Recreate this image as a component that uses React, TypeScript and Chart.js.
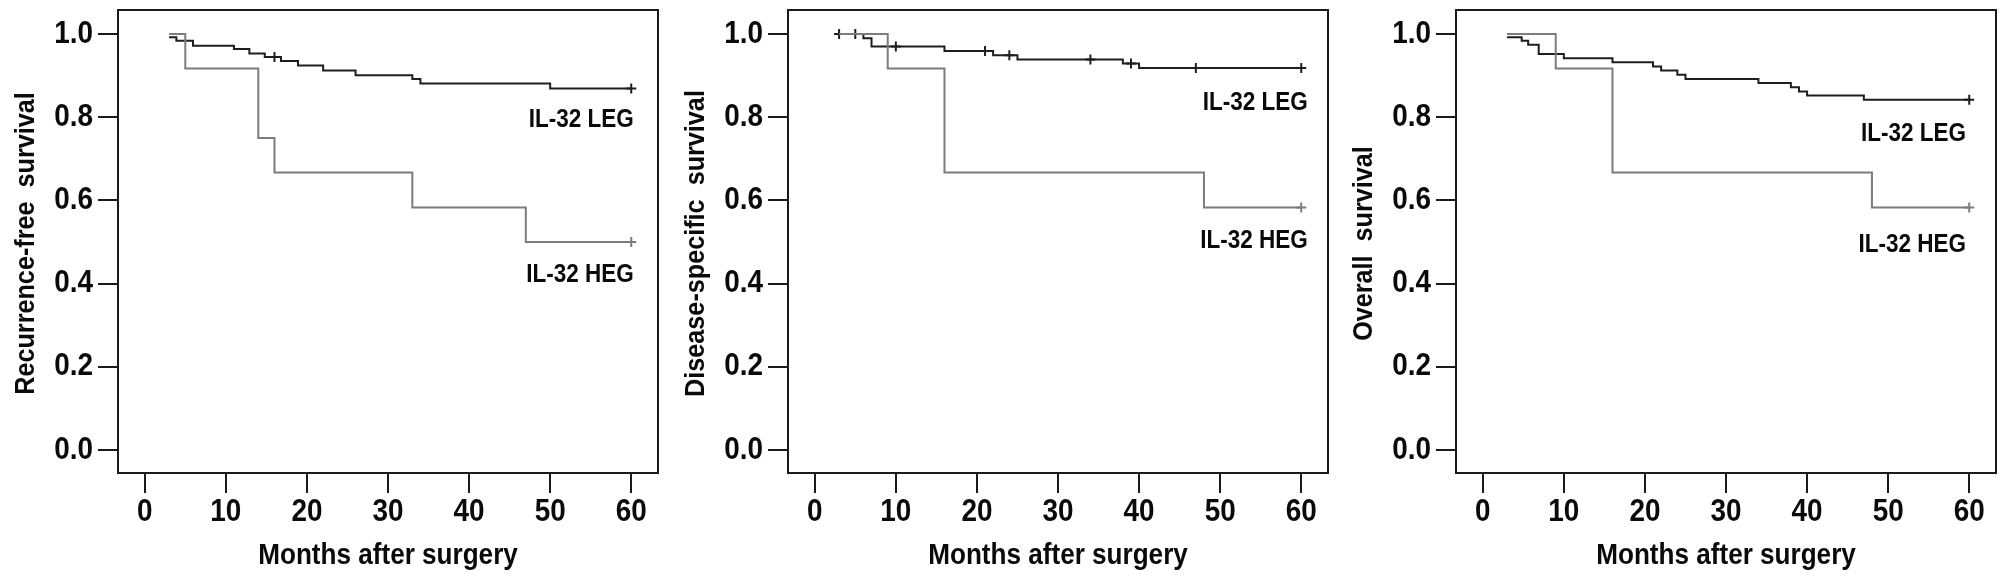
import React, { useEffect, useRef } from "react";
import { Chart, registerables } from "chart.js";

Chart.register(...registerables);

// ---------- tick values / titles ----------
const xTickValues = [0, 10, 20, 30, 40, 50, 60];
const yTickValues = [0, 0.2, 0.4, 0.6, 0.8, 1.0];
const xTitle = "Months after surgery";
const yTitles = ["Recurrence-free  survival", "Disease-specific  survival", "Overall  survival"];
const groupNames = ["IL-32 LEG", "IL-32 HEG"];

// ---------- Recurrence-free survival ----------
const rfsLegMonths = [3, 3.9, 5.95, 11, 12.9, 14.8, 16.8, 18.9, 22, 26, 33, 34, 50, 60];
const rfsLegSurvival = [0.992, 0.984, 0.972, 0.964, 0.953, 0.945, 0.935, 0.924, 0.912, 0.901, 0.892, 0.881, 0.869, 0.869];
const rfsLegCensorMonths = [16, 60];
const rfsLegCensorSurvival = [0.945, 0.869];
const rfsHegMonths = [3, 5, 14, 16, 33, 47, 60];
const rfsHegSurvival = [1.0, 0.917, 0.75, 0.667, 0.583, 0.5, 0.5];
const rfsHegCensorMonths = [60];
const rfsHegCensorSurvival = [0.5];

// ---------- Disease-specific survival ----------
const dssLegMonths = [3, 6, 7, 16, 22, 25, 38, 40, 60];
const dssLegSurvival = [1.0, 0.99, 0.97, 0.959, 0.949, 0.939, 0.929, 0.918, 0.918];
const dssLegCensorMonths = [3, 5, 10, 21, 24, 34, 39, 47, 60];
const dssLegCensorSurvival = [1.0, 1.0, 0.97, 0.959, 0.949, 0.939, 0.929, 0.918, 0.918];
const dssHegMonths = [3, 9, 16, 48, 60];
const dssHegSurvival = [1.0, 0.917, 0.667, 0.583, 0.583];
const dssHegCensorMonths = [60];
const dssHegCensorSurvival = [0.583];

// ---------- Overall survival ----------
const osLegMonths = [3, 4.8, 5.6, 6.9, 10, 16, 21, 22, 24, 25, 34, 38, 39, 40, 47, 60];
const osLegSurvival = [0.992, 0.984, 0.974, 0.952, 0.942, 0.932, 0.922, 0.912, 0.902, 0.892, 0.882, 0.872, 0.862, 0.852, 0.842, 0.842];
const osLegCensorMonths = [60];
const osLegCensorSurvival = [0.842];
const osHegMonths = [3, 9, 16, 48, 60];
const osHegSurvival = [1.0, 0.917, 0.667, 0.583, 0.583];
const osHegCensorMonths = [60];
const osHegCensorSurvival = [0.583];

// ---------- styling ----------
const LEG_COLOR = "#1e1e1e";
const HEG_COLOR = "#7c7c7c";
const AXIS_COLOR = "#1a1a1a";
const TEXT_COLOR = "#0a0a0a";
const FONT_FAMILY = "'Liberation Sans', Arial, Helvetica, sans-serif";
const SQUEEZE = 0.9; // narrow (condensed) look of the original lettering

type PanelCfg = {
  title: string;
  legM: number[]; legS: number[]; legCM: number[]; legCS: number[];
  hegM: number[]; hegS: number[]; hegCM: number[]; hegCS: number[];
  labelX: number; legLabelY: number; hegLabelY: number;
  left: number;
};

const panels: PanelCfg[] = [
  {
    title: yTitles[0],
    legM: rfsLegMonths, legS: rfsLegSurvival, legCM: rfsLegCensorMonths, legCS: rfsLegCensorSurvival,
    hegM: rfsHegMonths, hegS: rfsHegSurvival, hegCM: rfsHegCensorMonths, hegCS: rfsHegCensorSurvival,
    labelX: 60.3, legLabelY: 0.793, hegLabelY: 0.42, left: 0,
  },
  {
    title: yTitles[1],
    legM: dssLegMonths, legS: dssLegSurvival, legCM: dssLegCensorMonths, legCS: dssLegCensorSurvival,
    hegM: dssHegMonths, hegS: dssHegSurvival, hegCM: dssHegCensorMonths, hegCS: dssHegCensorSurvival,
    labelX: 60.8, legLabelY: 0.835, hegLabelY: 0.502, left: 670,
  },
  {
    title: yTitles[2],
    legM: osLegMonths, legS: osLegSurvival, legCM: osLegCensorMonths, legCS: osLegCensorSurvival,
    hegM: osHegMonths, hegS: osHegSurvival, hegCM: osHegCensorMonths, hegCS: osHegCensorSurvival,
    labelX: 59.6, legLabelY: 0.76, hegLabelY: 0.492, left: 1338,
  },
];

const toPts = (xs: number[], ys: number[]) => xs.map((x, i) => ({ x, y: ys[i] }));

function drawText(
  ctx: CanvasRenderingContext2D, text: string, x: number, y: number,
  size: number, align: CanvasTextAlign, rotate = 0
) {
  ctx.save();
  ctx.translate(x, y);
  if (rotate) ctx.rotate(rotate);
  ctx.scale(SQUEEZE, 1);
  ctx.font = `bold ${size}px ${FONT_FAMILY}`;
  ctx.fillStyle = TEXT_COLOR;
  ctx.textAlign = align;
  ctx.textBaseline = "middle";
  ctx.fillText(text, 0, 0);
  ctx.restore();
}

function KMPanel({ cfg }: { cfg: PanelCfg }) {
  const ref = useRef<HTMLCanvasElement>(null);
  useEffect(() => {
    if (!ref.current) return;

    const boxPlugin = {
      id: "boxPlugin",
      afterDatasetsDraw(chart: any) {
        const { ctx, chartArea } = chart;
        ctx.save();
        ctx.strokeStyle = AXIS_COLOR;
        ctx.lineWidth = 2;
        ctx.strokeRect(chartArea.left, chartArea.top, chartArea.right - chartArea.left, chartArea.bottom - chartArea.top);
        ctx.restore();
      },
    };
    const textPlugin = {
      id: "textPlugin",
      afterDraw(chart: any) {
        const { ctx, scales, chartArea } = chart;
        const sx = scales.x;
        const sy = scales.y;
        // x tick labels
        xTickValues.forEach((v) => drawText(ctx, String(v), sx.getPixelForValue(v), 512, 31, "center"));
        // y tick labels
        yTickValues.forEach((v) => drawText(ctx, v.toFixed(1), 93, sy.getPixelForValue(v), 31, "right"));
        // axis titles
        drawText(ctx, xTitle, (chartArea.left + chartArea.right) / 2, 556, 29, "center");
        drawText(ctx, cfg.title, 26, (chartArea.top + chartArea.bottom) / 2 + 2, 28, "center", -Math.PI / 2);
        // group labels
        const lx = sx.getPixelForValue(cfg.labelX);
        drawText(ctx, groupNames[0], lx, sy.getPixelForValue(cfg.legLabelY), 25, "right");
        drawText(ctx, groupNames[1], lx, sy.getPixelForValue(cfg.hegLabelY), 25, "right");
      },
    };

    const chart = new Chart(ref.current, {
      type: "line",
      data: {
        datasets: [
          {
            data: toPts(cfg.hegM, cfg.hegS),
            borderColor: HEG_COLOR, borderWidth: 2, stepped: "before", pointRadius: 0, fill: false,
          },
          {
            data: toPts(cfg.legM, cfg.legS),
            borderColor: LEG_COLOR, borderWidth: 2, stepped: "before", pointRadius: 0, fill: false,
          },
          {
            data: toPts(cfg.hegCM, cfg.hegCS),
            showLine: false, pointStyle: "cross", pointRadius: 5, pointBorderWidth: 2,
            borderColor: HEG_COLOR, backgroundColor: HEG_COLOR,
          },
          {
            data: toPts(cfg.legCM, cfg.legCS),
            showLine: false, pointStyle: "cross", pointRadius: 5, pointBorderWidth: 2,
            borderColor: LEG_COLOR, backgroundColor: LEG_COLOR,
          },
        ],
      } as any,
      options: {
        animation: false,
        responsive: false,
        events: [],
        layout: { padding: { left: 0, right: 11, top: 10, bottom: 0 } },
        plugins: { legend: { display: false }, tooltip: { enabled: false } },
        scales: {
          x: {
            type: "linear",
            min: -3.3,
            max: 63.3,
            afterBuildTicks: (s: any) => { s.ticks = xTickValues.map((v) => ({ value: v })); },
            afterFit: (s: any) => { s.height = 103; },
            grid: { display: true, drawOnChartArea: false, drawTicks: true, tickLength: 20, color: AXIS_COLOR, lineWidth: 2 },
            border: { display: true, color: AXIS_COLOR, width: 2 },
            ticks: { display: false, autoSkip: false },
            title: { display: false },
          },
          y: {
            type: "linear",
            min: -0.0553,
            max: 1.0577,
            afterBuildTicks: (s: any) => { s.ticks = yTickValues.map((v) => ({ value: v })); },
            afterFit: (s: any) => { s.width = 118; },
            grid: { display: true, drawOnChartArea: false, drawTicks: true, tickLength: 20, color: AXIS_COLOR, lineWidth: 2 },
            border: { display: true, color: AXIS_COLOR, width: 2 },
            ticks: { display: false, autoSkip: false },
            title: { display: false },
          },
        },
      } as any,
      plugins: [boxPlugin, textPlugin],
    });
    return () => chart.destroy();
  }, [cfg]);

  return (
    <div style={{ position: "absolute", left: cfg.left, top: 0, width: 669, height: 576 }}>
      <canvas ref={ref} width={669} height={576} style={{ display: "block" }} />
    </div>
  );
}

export default function App() {
  return (
    <div style={{ position: "absolute", left: 0, top: 0, width: 2008, height: 576, background: "#fff" }}>
      {panels.map((p, i) => (
        <KMPanel key={i} cfg={p} />
      ))}
    </div>
  );
}
